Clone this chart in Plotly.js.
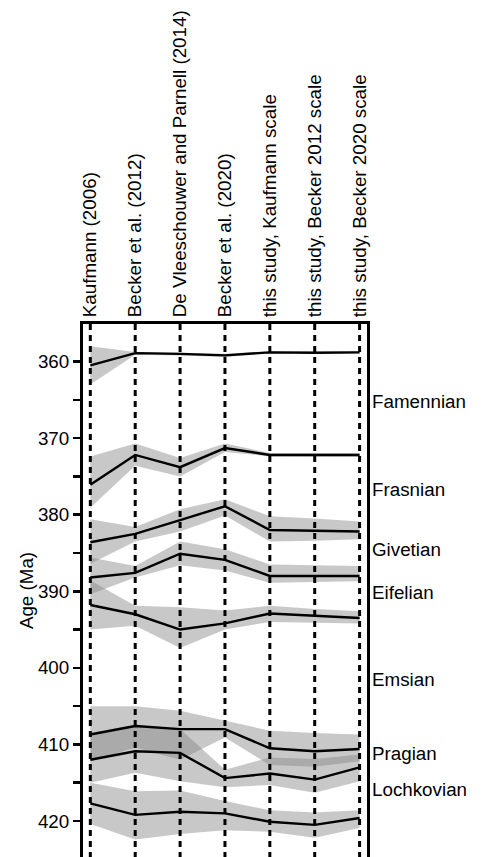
<!DOCTYPE html>
<html>
<head>
<meta charset="utf-8">
<script src="https://cdn.plot.ly/plotly-3.0.1.min.js"></script>
<style>
html,body{margin:0;padding:0;background:#fff;}
#chart{width:482px;height:857px;}
</style>
</head>
<body>
<div id="chart"></div>
<script>
// Column categories (age models)
const categories = [
  "Kaufmann (2006)",
  "Becker et al. (2012)",
  "De Vleeschouwer and Parnell (2014)",
  "Becker et al. (2020)",
  "this study, Kaufmann scale",
  "this study, Becker 2012 scale",
  "this study, Becker 2020 scale"
];

// Boundary ages (Ma): central value, lower and upper uncertainty edges
const famTopMid = [360.5, 358.9, 359.0, 359.2, 358.8, 358.85, 358.8];
const famTopLo  = [358.0, 358.75, 358.85, 359.0, 358.65, 358.7, 358.65];
const famTopHi  = [363.0, 359.1, 359.2, 359.4, 358.95, 359.0, 358.95];

const fraTopMid = [376.1, 372.2, 373.8, 371.3, 372.2, 372.2, 372.2];
const fraTopLo  = [372.4, 370.7, 372.6, 370.7, 371.95, 371.95, 371.95];
const fraTopHi  = [379.1, 373.6, 375.0, 371.8, 372.4, 372.45, 372.45];

const givTopMid = [383.6, 382.5, 380.7, 378.9, 382.0, 382.1, 382.2];
const givTopLo  = [380.6, 381.6, 379.3, 378.0, 380.2, 380.5, 380.9];
const givTopHi  = [386.4, 383.5, 382.2, 380.1, 383.5, 383.4, 383.2];

const eifTopMid = [388.2, 387.6, 385.1, 385.9, 388.0, 388.0, 388.0];
const eifTopLo  = [385.6, 386.7, 383.5, 384.5, 386.5, 386.6, 386.7];
const eifTopHi  = [390.4, 388.2, 386.6, 387.3, 388.9, 388.8, 388.7];

const emsTopMid = [391.8, 393.0, 395.0, 394.2, 392.9, 393.2, 393.5];
const emsTopLo  = [388.6, 391.9, 392.1, 392.5, 391.9, 392.3, 392.6];
const emsTopHi  = [395.0, 394.5, 397.4, 395.0, 394.0, 394.1, 394.2];

const praTopMid = [408.7, 407.6, 408.0, 408.0, 410.5, 410.9, 410.6];
const praTopLo  = [405.0, 405.0, 405.6, 406.9, 408.2, 408.5, 408.7];
const praTopHi  = [412.2, 410.4, 412.0, 409.1, 412.7, 412.9, 412.2];

const locTopMid = [412.0, 410.9, 411.1, 414.4, 413.8, 414.6, 413.0];
const locTopLo  = [408.5, 407.4, 408.0, 413.3, 411.7, 411.9, 411.3];
const locTopHi  = [415.0, 413.7, 414.8, 415.6, 415.3, 416.3, 414.8];

const locBaseMid = [417.7, 419.2, 418.8, 419.0, 420.1, 420.5, 419.6];
const locBaseLo  = [415.0, 416.1, 416.0, 417.4, 418.6, 418.9, 418.6];
const locBaseHi  = [420.4, 422.4, 421.7, 421.2, 421.4, 422.2, 420.9];

// Stage names and label positions (Ma)
const stageNames = ["Famennian", "Frasnian", "Givetian", "Eifelian", "Emsian", "Pragian", "Lochkovian"];
const stageLabelAges = [365.2, 376.7, 384.5, 390.2, 401.5, 411.2, 415.9];

const yTickVals = [360, 370, 380, 390, 400, 410, 420];
const yRange = [424.7, 355.1];

const boundaries = [
  [famTopMid, famTopLo, famTopHi],
  [fraTopMid, fraTopLo, fraTopHi],
  [givTopMid, givTopLo, givTopHi],
  [eifTopMid, eifTopLo, eifTopHi],
  [emsTopMid, emsTopLo, emsTopHi],
  [praTopMid, praTopLo, praTopHi],
  [locTopMid, locTopLo, locTopHi],
  [locBaseMid, locBaseLo, locBaseHi]
];

const FONT = "'Liberation Sans', Arial, Helvetica, sans-serif";
const FS = 18.8;
const traces = [];

// uncertainty bands
boundaries.forEach(b => {
  const lo = b[1], hi = b[2];
  traces.push({
    type: "scatter", mode: "lines",
    x: categories.concat(categories.slice().reverse()),
    y: lo.concat(hi.slice().reverse()),
    fill: "toself",
    fillcolor: "rgba(133,133,133,0.45)",
    line: {width: 0, color: "rgba(0,0,0,0)"},
    hoverinfo: "skip", showlegend: false
  });
});

// dashed column lines
categories.forEach(c => {
  traces.push({
    type: "scatter", mode: "lines",
    x: [c, c], y: [yRange[1], yRange[0]],
    line: {color: "black", width: 3, dash: "6px,5px"},
    hoverinfo: "skip", showlegend: false
  });
});

// central boundary lines
boundaries.forEach(b => {
  traces.push({
    type: "scatter", mode: "lines",
    x: categories, y: b[0],
    line: {color: "black", width: 2.4},
    hoverinfo: "skip", showlegend: false
  });
});

const annotations = stageNames.map((s, i) => ({
  text: s, xref: "paper", yref: "y", x: 1, y: stageLabelAges[i],
  xanchor: "left", yanchor: "middle", xshift: 3, showarrow: false,
  font: {family: FONT, size: FS, color: "black"}
}));

const layout = {
  width: 482, height: 857,
  margin: {l: 83, r: 115, t: 324, b: 0},
  paper_bgcolor: "white", plot_bgcolor: "white",
  showlegend: false,
  font: {family: FONT, size: FS, color: "black"},
  xaxis: {
    type: "category",
    categoryorder: "array", categoryarray: categories,
    side: "top", tickangle: -90,
    range: [-0.163, 6.165],
    showgrid: false, zeroline: false,
    showline: true, linecolor: "black", linewidth: 3,
    ticks: "", ticklen: 0,
    tickfont: {family: FONT, size: FS, color: "black"},
    automargin: false
  },
  yaxis: {
    range: yRange,
    tickvals: yTickVals,
    ticks: "outside", ticklen: 7, tickwidth: 2.5, tickcolor: "black",
    minor: {dtick: 5, tick0: 0, ticks: "outside", ticklen: 7, tickwidth: 2.5, tickcolor: "black", showgrid: false},
    showgrid: false, zeroline: false,
    showline: true, linecolor: "black", linewidth: 3, mirror: true,
    tickfont: {family: FONT, size: FS, color: "black"},
    title: {text: "Age (Ma)", font: {family: FONT, size: FS, color: "black"}, standoff: 0},
    automargin: false
  },
  annotations: annotations
};

Plotly.newPlot("chart", traces, layout, {displayModeBar: false, staticPlot: true});
</script>
</body>
</html>
